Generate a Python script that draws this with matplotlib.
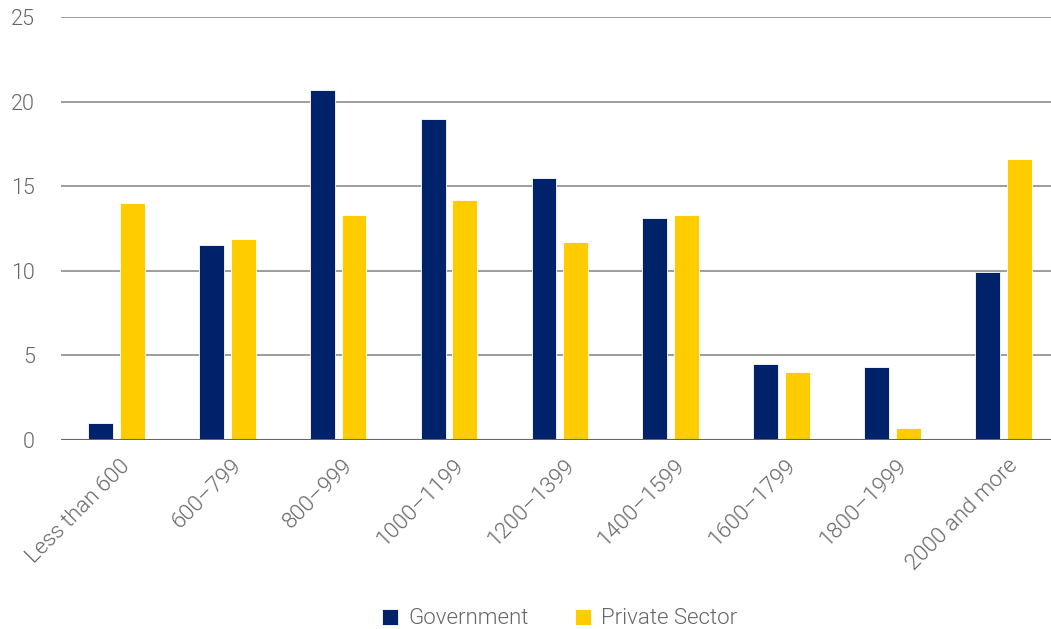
import numpy as np
import matplotlib.pyplot as plt
import matplotlib.transforms as mtransforms

plt.rcParams['font.family'] = ['Roboto', 'DejaVu Sans']
plt.rcParams['font.weight'] = 300

categories = ['Less than 600', '600–799', '800–999', '1000–1199', '1200–1399',
              '1400–1599', '1600–1799', '1800–1999', '2000 and more']
government = [1.0, 11.5, 20.7, 19.0, 15.5, 13.1, 4.5, 4.3, 9.9]
private_sector = [14.0, 11.9, 13.3, 14.2, 11.7, 13.3, 4.0, 0.7, 16.6]
y_ticks = [0, 5, 10, 15, 20, 25]

navy = '#00226a'
gold = '#ffcc00'
text_gray = '#666666'

fig = plt.figure(figsize=(10.51, 6.29), dpi=100)
ax = fig.add_axes([61 / 1051, 1 - 440 / 629, 1 - 61 / 1051, (440 - 17) / 629])

x = np.arange(len(categories))
width = 0.225
offset = 0.143
ax.bar(x - offset, government, width, color=navy, edgecolor='white',
       linewidth=0.6, label='Government', zorder=3)
ax.bar(x + offset, private_sector, width, color=gold, edgecolor='white',
       linewidth=0.6, label='Private Sector', zorder=3)

ax.set_xlim(-0.5, 8.43)
ax.set_ylim(0, 25)
ax.set_yticks(y_ticks)
ax.yaxis.grid(True, color='#8c8c8c', linewidth=1.2, zorder=0)
ax.axhline(0, color='#666666', linewidth=1.5, zorder=4)
for s in ax.spines.values():
    s.set_visible(False)

ax.tick_params(axis='y', length=0, pad=19, labelsize=15.5, labelcolor=text_gray)
ax.tick_params(axis='x', length=0, labelsize=16, labelcolor=text_gray)

ax.set_xticks(x)
ax.set_xticklabels(categories, rotation=45, ha='right', va='center',
                   rotation_mode='anchor')
shift = mtransforms.ScaledTranslation(0.11, -0.18, fig.dpi_scale_trans)
for lab in ax.get_xticklabels():
    lab.set_transform(lab.get_transform() + shift)

leg = fig.legend(loc='center', bbox_to_anchor=(560 / 1051, 1 - 619 / 629),
                 ncol=2, frameon=False, fontsize=16, handlelength=0.72,
                 handleheight=0.72, handletextpad=0.45, columnspacing=2.1)
for t in leg.get_texts():
    t.set_color(text_gray)

fig.savefig('out.png', dpi=100)
